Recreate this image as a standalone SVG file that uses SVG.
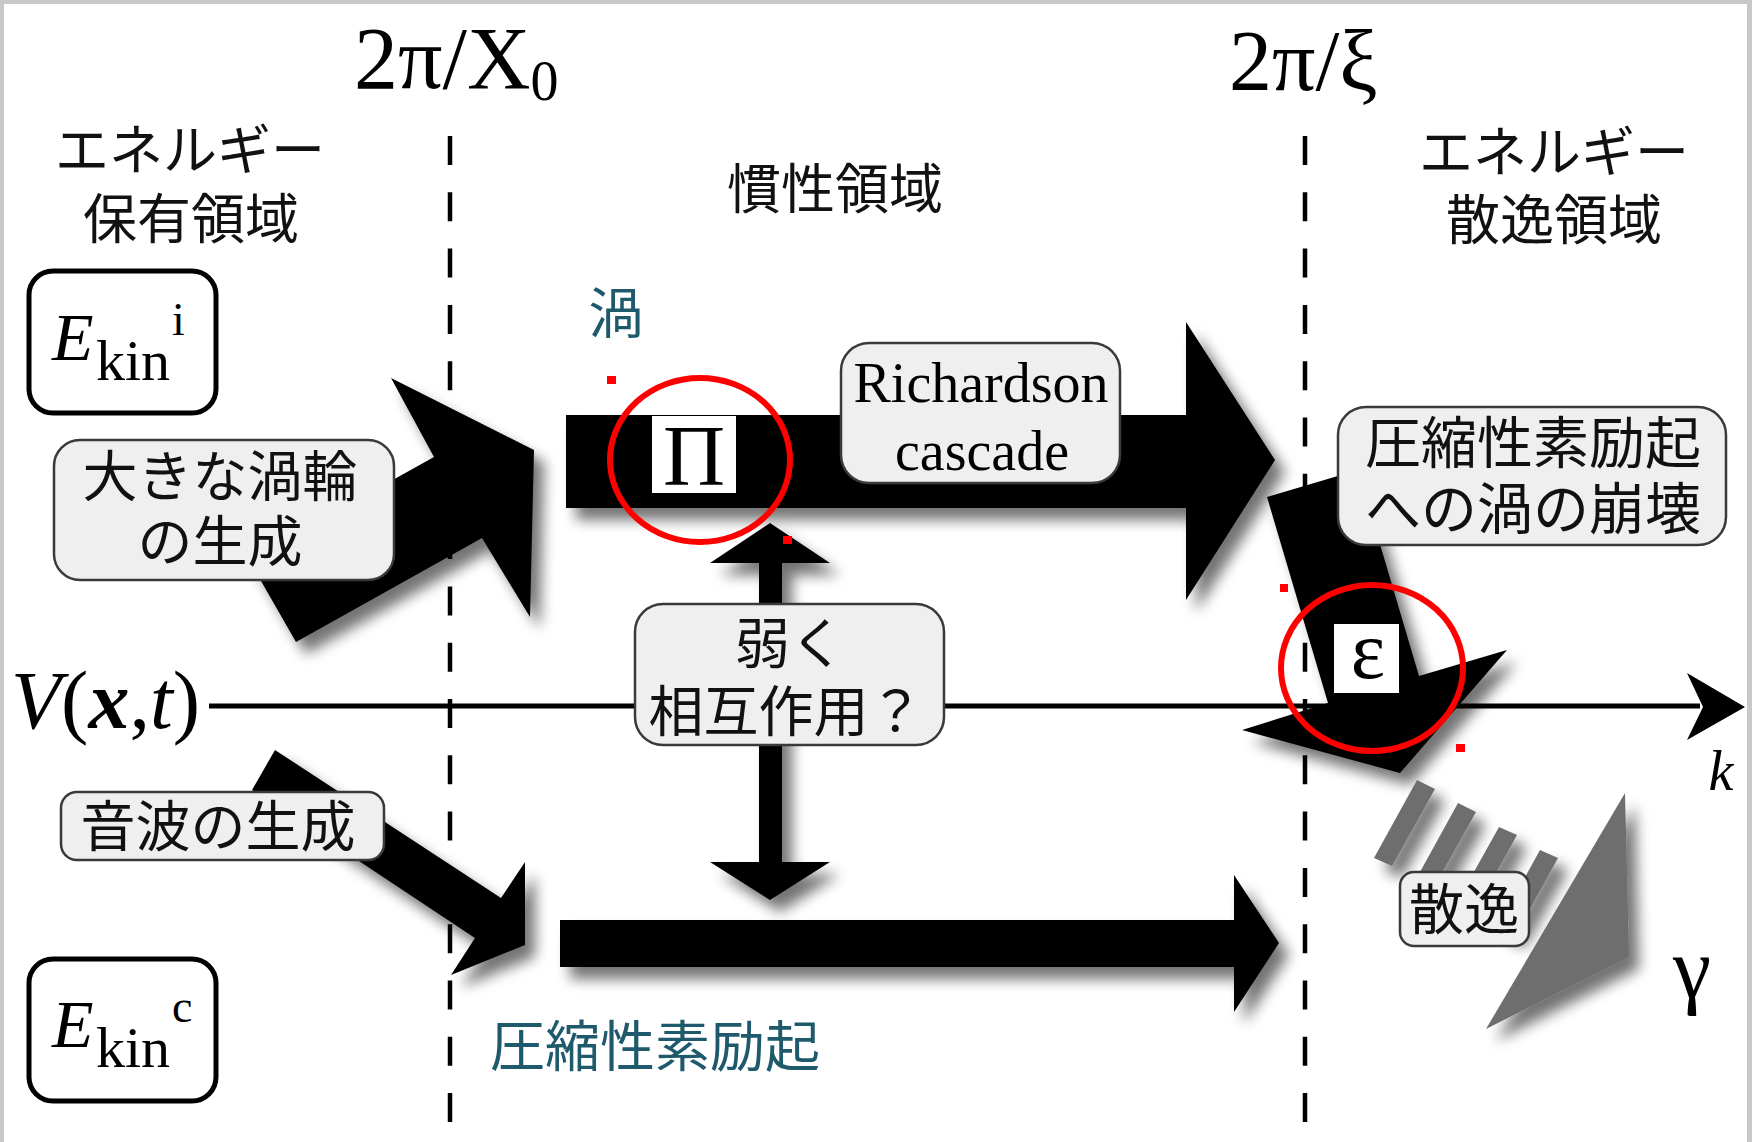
<svg xmlns="http://www.w3.org/2000/svg" width="1752" height="1142" viewBox="0 0 1752 1142">
<defs>
<filter id="sh" x="-20%" y="-20%" width="150%" height="160%">
<feGaussianBlur in="SourceAlpha" stdDeviation="7"/>
<feOffset dx="10" dy="12" result="b"/>
<feComponentTransfer><feFuncA type="linear" slope="0.55"/></feComponentTransfer>
<feMerge><feMergeNode/><feMergeNode in="SourceGraphic"/></feMerge>
</filter>
<style>
.jp{font-family:"Noto Sans CJK JP","Noto Sans CJK SC",sans-serif;fill:#111;text-anchor:middle}
.teal{fill:#1e5a6b}
.ser{font-family:"Liberation Serif","Times New Roman",serif;fill:#000}
.lbl{fill:#efefef;stroke:#3a3a3a;stroke-width:2.5}
.ek{fill:#fff;stroke:#000;stroke-width:5}
.dash{stroke:#000;stroke-width:4.5;stroke-dasharray:29 27.3;fill:none}
.arr{fill:#000}
.gray{fill:#6e6e6e}
.red{fill:none;stroke:#ff0000;stroke-width:6}
.dot{fill:#ff0000}
</style>
</defs>
<rect x="0" y="0" width="1752" height="1142" fill="#c8c8c8"/>
<rect x="4" y="4" width="1743" height="1138" fill="#ffffff"/>

<g id="guides">
<line class="dash" x1="450" y1="136" x2="450" y2="1125"/>
<line class="dash" x1="1305" y1="136" x2="1305" y2="1125"/>
</g>

<g id="axis">
<line x1="209" y1="706" x2="1700" y2="706" stroke="#000" stroke-width="5"/>
<polygon points="1745,707 1687,673 1703,707 1687,740" fill="#000"/>
<text class="ser" x="11" y="728" font-size="82"><tspan font-style="italic">V</tspan>(<tspan font-style="italic" font-weight="bold">x</tspan>,<tspan font-style="italic">t</tspan>)</text>
<text class="ser" x="1721" y="790" font-size="56" font-style="italic" text-anchor="middle">k</text>
</g>

<g id="headings">
<text class="ser" x="354" y="88" font-size="88">2π/X<tspan font-size="56" dy="12">0</tspan></text>
<text class="ser" x="1229" y="90" font-size="86">2π/ξ</text>
<text class="jp" x="190" y="170" font-size="54">エネルギー</text>
<text class="jp" x="191" y="239" font-size="54">保有領域</text>
<text class="jp" x="835" y="209" font-size="54">慣性領域</text>
<text class="jp" x="1554" y="172" font-size="54">エネルギー</text>
<text class="jp" x="1554" y="240" font-size="54">散逸領域</text>
</g>

<g id="connectors" filter="url(#sh)">
<polygon class="arr" points="296,642 482,538 530,617 534,450 391,378 434,457 249,560"/>
<polygon class="arr" points="566,415 1186,415 1186,322 1275,460 1186,600 1186,508 566,508"/>
<polygon class="arr" points="1267,497 1358,470 1419,676 1507,650 1400,773 1242,730 1328,703"/>
<polygon class="arr" points="275,750 501,898 525,862 525,945 451,975 475,938 252,790"/>
<polygon class="arr" points="560,920 1234,920 1234,875 1279,943 1234,1012 1234,967 560,967"/>
<polygon class="arr" points="770,523 830,563 782,563 782,862 830,862 770,900 710,862 759,862 759,563 710,563"/>
<polygon class="gray" points="1417,780 1435,789 1392,866 1374,858"/>
<polygon class="gray" points="1458,803 1476,812 1433,889 1415,881"/>
<polygon class="gray" points="1499,827 1517,835 1474,913 1456,904"/>
<polygon class="gray" points="1540,850 1558,858 1515,936 1497,928"/>
<polygon class="gray" points="1625,793 1629,957 1486,1029"/>
</g>

<g id="ekin-i">
<rect class="ek" x="29" y="271" width="187" height="142" rx="24"/>
<text class="ser" x="52" y="360" font-size="68" font-style="italic">E</text>
<text class="ser" x="96" y="380" font-size="58">kin</text>
<text class="ser" x="172" y="335" font-size="46">i</text>
</g>

<g id="ekin-c">
<rect class="ek" x="29" y="959" width="187" height="142" rx="24"/>
<text class="ser" x="52" y="1047" font-size="68" font-style="italic">E</text>
<text class="ser" x="96" y="1067" font-size="58">kin</text>
<text class="ser" x="172" y="1022" font-size="46">c</text>
</g>

<g id="vortex-gen">
<rect class="lbl" x="54" y="440" width="340" height="140" rx="26"/>
<text class="jp" x="220" y="496" font-size="55">大きな渦輪</text>
<text class="jp" x="220" y="561" font-size="55">の生成</text>
</g>

<g id="sound-gen">
<rect class="lbl" x="61" y="792" width="323" height="68" rx="16"/>
<text class="jp" x="218" y="846" font-size="55">音波の生成</text>
</g>

<g id="vortex-label">
<text class="jp teal" x="616" y="333" font-size="55">渦</text>
</g>

<g id="pi">
<rect x="652" y="416" width="84" height="77" fill="#fff"/>
<text class="ser" x="694" y="485" font-size="86" text-anchor="middle">Π</text>
</g>

<g id="richardson">
<rect class="lbl" x="841" y="343" width="279" height="140" rx="28"/>
<text class="ser" x="981" y="402" font-size="56" text-anchor="middle">Richardson</text>
<text class="ser" x="982" y="470" font-size="56" text-anchor="middle">cascade</text>
</g>

<g id="weak">
<rect class="lbl" x="635" y="604" width="309" height="141" rx="28"/>
<text class="jp" x="790" y="663" font-size="55">弱く</text>
<text class="jp" x="786" y="731" font-size="55">相互作用？</text>
</g>

<g id="compress-label">
<text class="jp teal" x="655" y="1066" font-size="55">圧縮性素励起</text>
</g>

<g id="collapse">
<rect class="lbl" x="1338" y="407" width="388" height="138" rx="28"/>
<text class="jp" x="1533" y="463" font-size="56">圧縮性素励起</text>
<text class="jp" x="1533" y="529" font-size="56">への渦の崩壊</text>
</g>

<g id="epsilon">
<rect x="1334" y="624" width="65" height="69" fill="#fff"/>
<text class="ser" x="1368" y="678" font-size="82" text-anchor="middle">ε</text>
</g>

<g id="dissipation">
<rect class="lbl" x="1400" y="872" width="129" height="74" rx="14"/>
<text class="jp" x="1464" y="929" font-size="55">散逸</text>
<text class="ser" x="1692" y="997" font-size="86" text-anchor="middle">γ</text>
</g>

<g id="highlights">
<ellipse class="red" cx="700" cy="460" rx="90" ry="82"/>
<ellipse class="red" cx="1372" cy="668" rx="91" ry="83"/>
<rect class="dot" x="607" y="376" width="9" height="8"/>
<rect class="dot" x="783" y="536" width="9" height="8"/>
<rect class="dot" x="1280" y="584" width="8" height="8"/>
<rect class="dot" x="1456" y="744" width="9" height="8"/>
</g>
</svg>
